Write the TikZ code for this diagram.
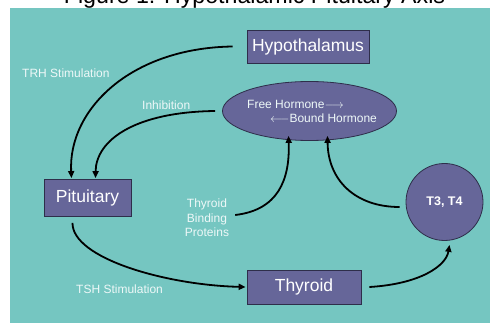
\documentclass[tikz,border=0pt]{standalone}
\usepackage{fontspec}
\setmainfont{Liberation Sans}
\usetikzlibrary{arrows.meta, shapes.geometric, positioning, calc}
\definecolor{slidebg}{HTML}{75C6C1}
\definecolor{organfill}{HTML}{666699}
\definecolor{organline}{HTML}{2E2E4A}

\begin{document}
\begin{tikzpicture}[
  x=1pt, y=-1pt,
  >={Triangle[length=7pt,width=6pt]},
  organ/.style={draw=organline, fill=organfill, text=white, line width=0.8pt,
                inner sep=0pt, font=\fontsize{17.5}{20}\selectfont},
  lbl/.style={text=white!88!slidebg, font=\fontsize{12}{14.5}\selectfont, inner sep=0pt},
  arr/.style={line width=1.8pt, ->}
]
  \useasboundingbox (0,0) rectangle (490,323);
  \fill[slidebg] (10,8) rectangle (490,323);
  \begin{scope}
    \clip (0,0) rectangle (490,8);
    \node[anchor=base, inner sep=0pt, font=\fontsize{23.2}{26}\selectfont] (title) at (254.5,3.5)
      {Figure 1: Hypothalamic Pituitary Axis};
  \end{scope}

  \node[organ, minimum width=122pt, minimum height=33pt] (hypo) at (308,46.5) {Hypothalamus};
  \node[organ, ellipse, minimum width=174pt, minimum height=59pt] (pool) at (309.5,111) {};
  \node[organ, minimum width=87pt, minimum height=37pt] (pit) at (87.5,198) {Pituitary};
  \node[organ, minimum width=114pt, minimum height=34pt] (thy) at (304,287) {Thyroid};
  \node[organ, circle, minimum size=77pt, font=\bfseries\fontsize{12.5}{14}\selectfont] (t34) at (444.5,202) {T3, T4};

  % labels inside the ellipse
  \node[lbl, anchor=west] (free) at (247,104) {Free Hormone$\longrightarrow$};
  \node[lbl, anchor=west] (bound) at (270,118) {$\longleftarrow$Bound Hormone};

  \node[lbl, anchor=west] (trh) at (22,73) {TRH Stimulation};
  \node[lbl, anchor=west] (inh) at (142,105) {Inhibition};
  \node[lbl, align=center] (tbp) at (207,218) {Thyroid\\Binding\\Proteins};
  \node[lbl, anchor=west] (tsh) at (76,289) {TSH Stimulation};

  \coordinate (trhstart) at ($(hypo.west)+(-14,0)$);
  \coordinate (inhstart) at ($(pool.west)+(-7,0)$);
  \coordinate (tbpstart) at ($(tbp.east)+(6,-3)$);
  \coordinate (t34start) at ($(t34.west)+(-6,5)$);
  \coordinate (pitstart) at ($(pit.south)+(-15,6)$);
  \coordinate (thystart) at ($(thy.east)+(8,0)$);

  \draw[arr] (trhstart) .. controls (130,48) and (68,110) .. ($(pit.north)+(-16,-1)$);
  \draw[arr] (inhstart) .. controls (135,112) and (96,140) .. ($(pit.north)+(8,-1)$);
  \draw[arr] (tbpstart) .. controls (278,210) and (290,180) .. ($(pool.south)+(-21,-5)$);
  \draw[arr] (t34start) .. controls (355,207) and (328,180) .. ($(pool.south)+(18,-5)$);
  \draw[arr] (pitstart) .. controls (72,258) and (165,285) .. ($(thy.west)+(-1,0)$);
  \draw[arr] (thystart) .. controls (420,284) and (446,266) .. ($(t34.south)+(5,4)$);
\end{tikzpicture}
\end{document}
